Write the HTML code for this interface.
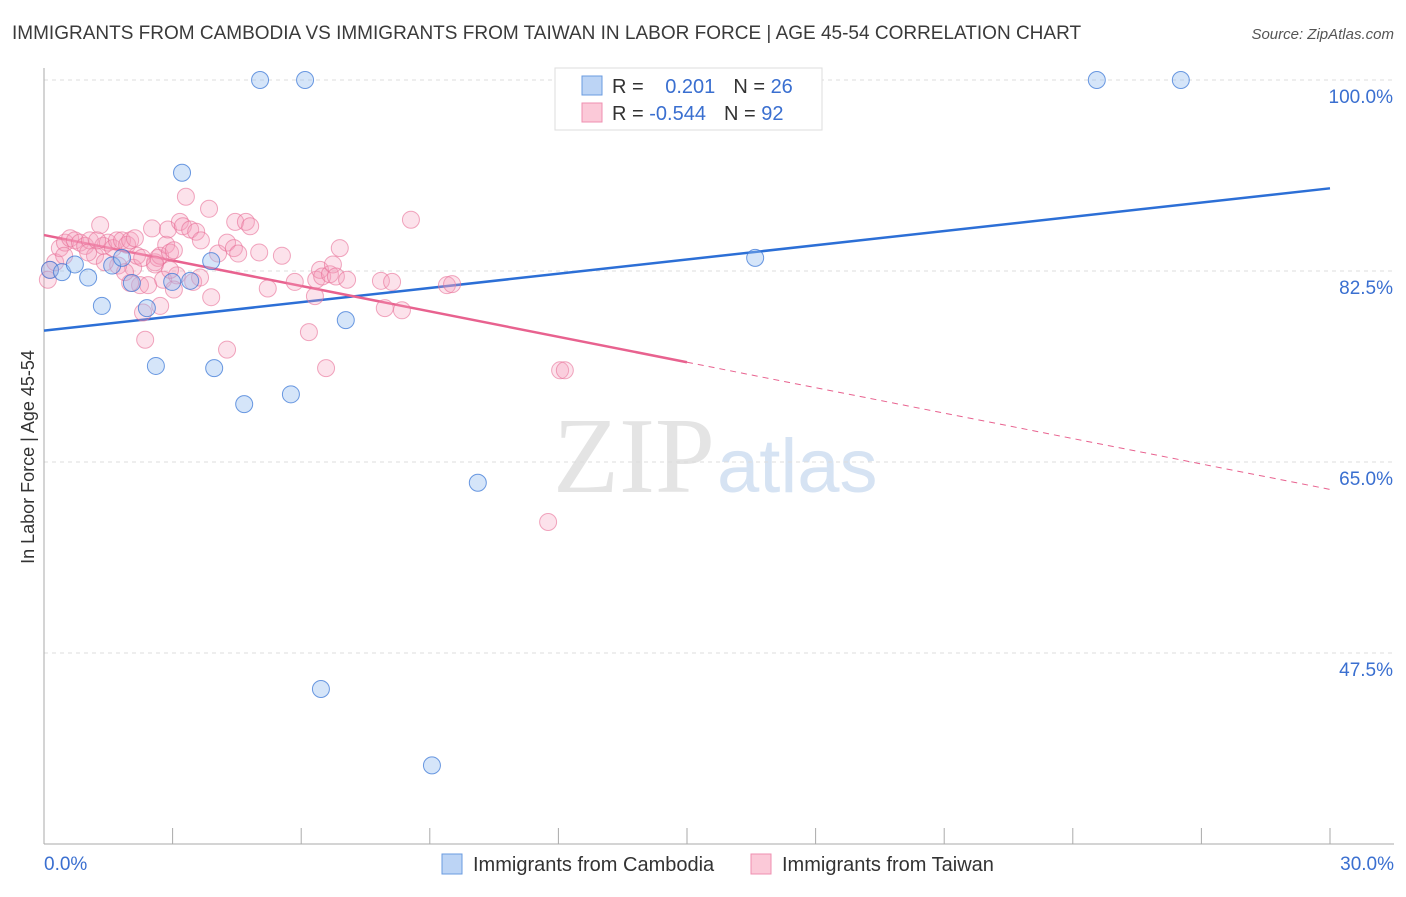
<!DOCTYPE html>
<html><head><meta charset="utf-8"><style>
body{margin:0;background:#fff;font-family:"Liberation Sans",sans-serif;}
</style></head><body>
<svg width="1406" height="892" xmlns="http://www.w3.org/2000/svg" style="font-family:'Liberation Sans',sans-serif">
<text x="12" y="39" font-size="19" fill="#3a3a3a">IMMIGRANTS FROM CAMBODIA VS IMMIGRANTS FROM TAIWAN IN LABOR FORCE | AGE 45-54 CORRELATION CHART</text>
<text x="1394" y="39" font-size="15" fill="#555" text-anchor="end" font-style="italic">Source: ZipAtlas.com</text>
<text x="715" y="492" font-size="108" fill="#e4e4e4" text-anchor="end" font-family="Liberation Serif">ZIP</text>
<text x="717" y="492" font-size="76" fill="#d6e3f3">atlas</text>
<g id="grid"></g><g id="axes"></g><g id="lines"></g><g id="pts"></g>
<text transform="translate(34,457) rotate(-90)" font-size="18" fill="#333" text-anchor="middle">In Labor Force | Age 45-54</text>
<g>
<rect x="555" y="68" width="267" height="62" fill="#fff" stroke="#ddd"/>
<rect x="582" y="76" width="20" height="19" fill="#bcd4f5" stroke="#6a9be0"/>
<rect x="582" y="103" width="20" height="19" fill="#fbc9d8" stroke="#ef8fb0"/>
<text x="612" y="93" font-size="20" fill="#333">R = <tspan fill="#3a6fd0" dx="16">0.201</tspan><tspan dx="18" fill="#333">N = </tspan><tspan fill="#3a6fd0">26</tspan></text>
<text x="612" y="120" font-size="20" fill="#333">R = <tspan fill="#3a6fd0">-0.544</tspan><tspan dx="18" fill="#333">N = </tspan><tspan fill="#3a6fd0">92</tspan></text>
</g>
<g>
<rect x="442" y="854" width="20" height="20" fill="#bcd4f5" stroke="#6a9be0"/>
<text x="473" y="871" font-size="20" fill="#333">Immigrants from Cambodia</text>
<rect x="751" y="854" width="20" height="20" fill="#fbc9d8" stroke="#ef8fb0"/>
<text x="782" y="871" font-size="20" fill="#333">Immigrants from Taiwan</text>
</g>
</svg>
<script>
const yTicks=[100,82.5,65,47.5];
const yTickLabels=["100.0%","82.5%","65.0%","47.5%"];
const xTickLabels=["0.0%","30.0%"];
const blueX=[5.04,6.09,24.56,26.52,3.22,16.59,0.14,0.42,0.72,1.03,1.35,1.59,1.82,2.05,2.40,2.99,3.41,3.90,2.61,3.97,4.67,5.76,7.04,10.12,6.46,9.05];
const blueY=[100,100,100,100,91.5,83.7,82.6,82.4,83.1,81.9,79.3,83.0,83.7,81.4,79.1,81.5,81.6,83.4,73.8,73.6,70.3,71.2,78.0,63.1,44.2,37.2];
const pinkX=[0.14,0.09,0.26,0.37,0.49,0.61,0.72,0.84,0.96,1.07,1.19,1.31,1.38,1.49,1.61,1.70,1.82,1.94,2.01,2.08,2.17,2.24,2.31,2.36,2.43,2.52,2.59,2.66,2.71,2.78,2.85,2.89,2.94,3.03,3.10,3.17,3.24,3.31,3.41,3.48,3.55,3.66,3.85,3.90,4.06,4.27,4.27,4.43,4.46,4.53,4.71,4.81,5.02,5.22,5.55,5.85,6.18,6.32,6.35,6.44,6.49,6.58,6.67,6.74,6.81,6.90,7.07,7.86,7.95,8.12,8.35,8.56,9.40,9.52,12.04,12.15,11.76,3.64,1.73,2.01,1.42,2.59,3.03,0.47,1.03,1.24,1.89,2.12,2.94,2.71,2.29];
const pinkY=[82.6,81.7,83.3,84.6,85.1,85.5,85.3,85.1,84.8,85.3,83.9,86.7,84.8,85.1,84.6,85.3,85.3,84.9,85.3,82.8,83.9,81.2,78.7,76.2,81.2,86.4,83.3,83.7,83.9,81.7,84.9,86.3,84.2,84.4,82.1,87.0,86.6,89.3,86.3,81.5,86.1,85.3,88.2,80.1,84.1,85.1,75.3,84.6,87.0,84.1,87.0,86.6,84.2,80.9,83.9,81.5,76.9,80.2,81.7,82.6,82.0,73.6,82.2,83.1,82.0,84.6,81.7,81.6,79.1,81.5,78.9,87.2,81.2,81.3,73.4,73.4,59.5,81.9,83.0,81.4,83.3,83.1,80.8,83.9,84.2,85.3,82.4,85.5,82.6,79.3,83.7];
const NS="http://www.w3.org/2000/svg";
const X=v=>44+v*(1286/30), Y=v=>80+(100-v)*10.914;
function mk(t,a,p){const e=document.createElementNS(NS,t);for(const k in a)e.setAttribute(k,a[k]);document.getElementById(p).appendChild(e);return e;}
yTicks.forEach((t,i)=>{
 const g=mk('line',{x1:44,x2:1394,y1:Y(t),y2:Y(t),stroke:'#ddd','stroke-dasharray':'4,4'},'grid');
 
 
 const l=mk('text',{x:1393,y:Y(t)+23,'font-size':19,fill:'#3a6fd0','text-anchor':'end'},'axes');
 l.textContent=yTickLabels[i];
 
 
});
const ax=mk('line',{x1:44,x2:44,y1:68,y2:844,stroke:'#aaa'},'axes');


const bx=mk('line',{x1:44,x2:1394,y1:844,y2:844,stroke:'#aaa'},'axes');


for(let i=0;i<=10;i++){const t=mk('line',{x1:X(i*3),x2:X(i*3),y1:828,y2:844,stroke:'#aaa'},'axes');
 
 }
[[0,'start',44],[30,'end',1394]].forEach((d,i)=>{const t=mk('text',{x:d[2],y:870,'font-size':19,fill:'#3a6fd0','text-anchor':d[1]},'axes');t.textContent=xTickLabels[i];
 
 });
function fit(xs,ys){const n=xs.length;let mx=0,my=0;xs.forEach((v,i)=>{mx+=v;my+=ys[i]});mx/=n;my/=n;let sxy=0,sxx=0;xs.forEach((v,i)=>{sxy+=(v-mx)*(ys[i]-my);sxx+=(v-mx)**2});const b=sxy/sxx;return [my-b*mx,b];}
const [ba,bb]=fit(blueX,blueY),[pa,pb]=fit(pinkX,pinkY);
let e=mk('line',{x1:X(0),y1:Y(ba),x2:X(30),y2:Y(ba+bb*30),stroke:'#2c6fd6','stroke-width':2.5},'lines');


e=mk('line',{x1:X(0),y1:Y(pa),x2:X(15),y2:Y(pa+pb*15),stroke:'#e8628f','stroke-width':2.5},'lines');


e=mk('line',{x1:X(15),y1:Y(pa+pb*15),x2:X(30),y2:Y(pa+pb*30),stroke:'#e8628f','stroke-width':1,'stroke-dasharray':'6,5'},'lines');


pinkX.forEach((v,i)=>{const c=mk('circle',{cx:X(v),cy:Y(pinkY[i]),r:8.5,fill:'rgba(245,160,190,0.3)',stroke:'rgba(232,110,150,0.6)'},'pts');
 
 });
blueX.forEach((v,i)=>{const c=mk('circle',{cx:X(v),cy:Y(blueY[i]),r:8.5,fill:'rgba(150,190,240,0.4)',stroke:'rgba(60,120,215,0.75)'},'pts');
 
 });
</script>
</body></html>
